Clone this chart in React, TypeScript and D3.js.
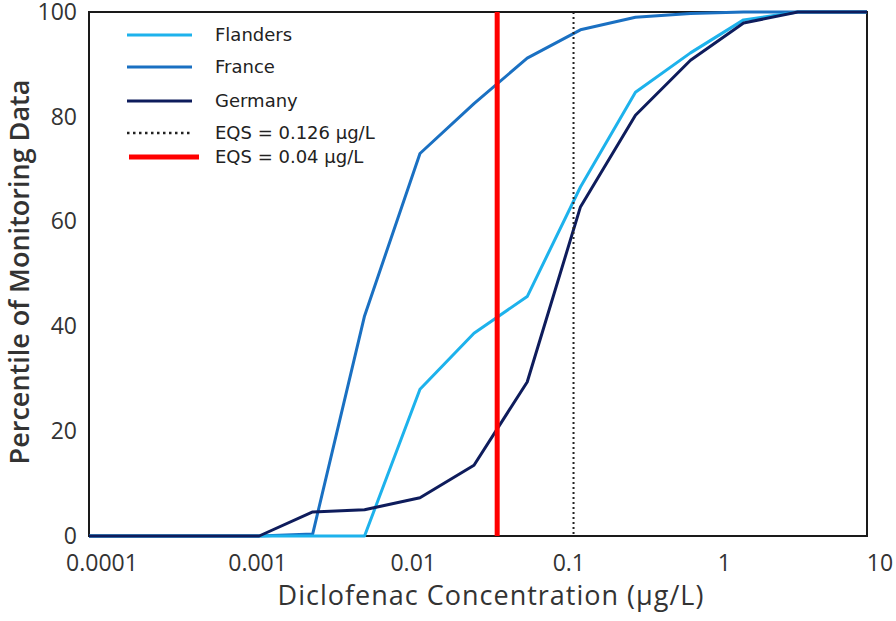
import { useEffect, useRef } from "react"
import * as d3 from "d3"

// concentration (µg/L) at which each series was read
const concentrations = [0.0001, 0.00124, 0.00274, 0.0059, 0.0134, 0.0298, 0.0655, 0.144, 0.325, 0.734, 1.61, 3.59, 10]

const flanders = [0, 0, 0, 0, 28, 38.7, 45.7, 66.6, 84.7, 92.2, 98.5, 100, 100]
const france = [0, 0, 0.4, 42, 73, 82.5, 91.2, 96.6, 99, 99.7, 100, 100, 100]
const germany = [0, 0, 4.6, 5.0, 7.3, 13.5, 29.4, 62.8, 80.3, 90.8, 97.9, 100, 100]

const seriesNames = ["France", "Flanders", "Germany"]
const legendNames = ["Flanders", "France", "Germany", "EQS = 0.126 µg/L", "EQS = 0.04 µg/L"]

const xTicks = [0.0001, 0.001, 0.01, 0.1, 1, 10]
const xTickLabels = ["0.0001", "0.001", "0.01", "0.1", "1", "10"]
const yTicks = [0, 20, 40, 60, 80, 100]

// where the EQS lines sit in the picture
const eqsDotted = 0.13
const eqsRed = 0.042

export default function App() {
  const svgRef = useRef<SVGSVGElement>(null)

  useEffect(() => {
    if (!svgRef.current) return
    const svg = d3.select(svgRef.current)
    svg.selectAll("*").remove()

    const width = 896
    const height = 621
    const margin = { top: 12, right: 29, bottom: 85, left: 89 }

    svg.attr("width", width).attr("height", height)

    const x = d3.scaleLog().domain([0.0001, 10]).range([margin.left, width - margin.right])
    const y = d3.scaleLinear().domain([0, 100]).range([height - margin.bottom, margin.top])

    const colors: Record<string, string> = {
      Flanders: "#1db2ec",
      France: "#1a70c2",
      Germany: "#0e1c5c",
    }
    const values: Record<string, number[]> = {
      Flanders: flanders,
      France: france,
      Germany: germany,
    }

    const tickFont = "'Open Sans', 'Noto Sans', sans-serif"

    // frame
    svg.append("rect")
      .attr("x", margin.left)
      .attr("y", margin.top)
      .attr("width", width - margin.left - margin.right)
      .attr("height", height - margin.top - margin.bottom)
      .style("fill", "none")
      .style("stroke", "#1a1a1a")
      .style("stroke-width", 2)

    // x axis labels (no tick marks, labels sit a bit right of their tick)
    const xAxis = d3.axisBottom(x)
      .tickValues(xTicks)
      .tickFormat((d, i) => xTickLabels[i])
      .tickSize(0)
      .tickPadding(19)
    const gx = svg.append("g")
      .attr("transform", `translate(12.5, ${height - margin.bottom})`)
      .call(xAxis)
    gx.select(".domain").remove()
    gx.selectAll("text")
      .style("font-family", tickFont)
      .style("font-size", "23px")
      .style("fill", "#333")

    const yAxis = d3.axisLeft(y)
      .tickValues(yTicks)
      .tickSize(0)
      .tickPadding(12)
    const gy = svg.append("g")
      .attr("transform", `translate(${margin.left}, 0)`)
      .call(yAxis)
    gy.select(".domain").remove()
    gy.selectAll("text")
      .style("font-family", tickFont)
      .style("font-size", "23px")
      .style("fill", "#333")

    // axis titles
    svg.append("text")
      .attr("x", 491)
      .attr("y", 605)
      .attr("text-anchor", "middle")
      .style("font-family", tickFont)
      .style("font-size", "27px")
      .style("letter-spacing", "1px")
      .style("fill", "#333")
      .text("Diclofenac Concentration (µg/L)")

    svg.append("text")
      .attr("transform", `translate(29, 272) rotate(-90)`)
      .attr("text-anchor", "middle")
      .style("font-family", tickFont)
      .style("font-size", "27px")
      .style("font-weight", "600")
      .style("fill", "#333")
      .text("Percentile of Monitoring Data")

    // series
    const line = d3.line<number>()
      .x((d, i) => x(concentrations[i]))
      .y((d) => y(d))

    seriesNames.forEach((name) => {
      svg.append("path")
        .datum(values[name])
        .attr("d", line)
        .style("fill", "none")
        .style("stroke", colors[name])
        .style("stroke-width", 3)
        .style("stroke-linejoin", "round")
    })

    // EQS lines
    svg.append("line")
      .attr("x1", x(eqsDotted))
      .attr("x2", x(eqsDotted))
      .attr("y1", y(100))
      .attr("y2", y(0))
      .style("stroke", "#222")
      .style("stroke-width", 2)
      .style("stroke-dasharray", "2,3")

    svg.append("line")
      .attr("x1", x(eqsRed))
      .attr("x2", x(eqsRed))
      .attr("y1", y(100))
      .attr("y2", y(0))
      .style("stroke", "#ff0000")
      .style("stroke-width", 5)

    // legend
    const legendRows = [35, 67, 101, 133, 157]
    const legendStyles = [
      { color: colors.Flanders, width: 3, dash: null, x1: 127, x2: 192 },
      { color: colors.France, width: 3, dash: null, x1: 127, x2: 192 },
      { color: colors.Germany, width: 3, dash: null, x1: 127, x2: 192 },
      { color: "#222", width: 2.5, dash: "2.5,3.5", x1: 127, x2: 190 },
      { color: "#ff0000", width: 5, dash: null, x1: 129, x2: 199 },
    ]
    const legend = svg.append("g")
    legendNames.forEach((name, i) => {
      const s = legendStyles[i]
      legend.append("line")
        .attr("x1", s.x1)
        .attr("x2", s.x2)
        .attr("y1", legendRows[i])
        .attr("y2", legendRows[i])
        .style("stroke", s.color)
        .style("stroke-width", s.width)
        .style("stroke-dasharray", s.dash)
      legend.append("text")
        .attr("x", 215)
        .attr("y", legendRows[i])
        .attr("dy", "0.36em")
        .style("font-family", "'DejaVu Sans', sans-serif")
        .style("font-size", "18px")
        .style("fill", "#222")
        .text(name)
    })
  }, [])

  return (
    <svg ref={svgRef} style={{ position: "absolute", left: 0, top: 0, background: "#fff" }} />
  )
}
